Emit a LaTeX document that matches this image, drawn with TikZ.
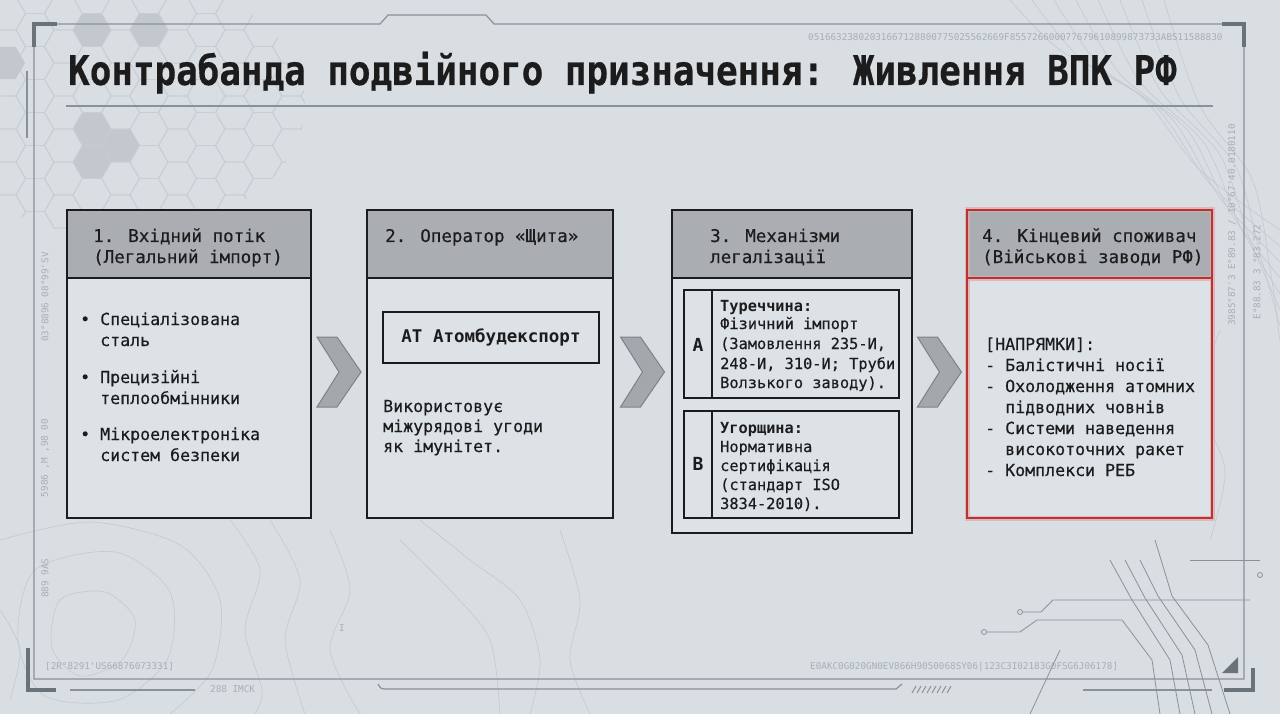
\documentclass[tikz,border=0pt]{standalone}
\usepackage{fontspec}
\usetikzlibrary{calc}
\newfontfamily\mono{DejaVu Sans Mono}[FakeBold=0.35]
\newfontfamily\monob{DejaVu Sans Mono Bold}
\newfontfamily\decomono{DejaVu Sans Mono}
\newfontfamily\tmono{DejaVu Sans Mono Bold}[FakeStretch=0.875,FakeBold=0.4]
\definecolor{bgc}{HTML}{D9DEE3}
\definecolor{bodyc}{HTML}{DDE2E7}
\definecolor{hdrc}{HTML}{AAAEB2}
\definecolor{ink}{HTML}{1C1C1C}
\definecolor{framec}{HTML}{8A9197}
\definecolor{darkc}{HTML}{6B737A}
\definecolor{hexc}{HTML}{C8CED4}
\definecolor{hexf}{HTML}{C2C8CE}
\definecolor{topoc}{HTML}{C3C9CF}
\definecolor{decot}{HTML}{A7AEB5}
\definecolor{redc}{HTML}{B83434}
\definecolor{glowc}{HTML}{E4A9A9}
\definecolor{chevf}{HTML}{A3A8AD}
\definecolor{chevd}{HTML}{7C8288}
\begin{document}
\begin{tikzpicture}[x=1pt,y=-1pt,
  topo/.style={draw=topoc, line width=0.6},
  boxframe/.style={draw=ink, line width=2, fill=none, inner sep=0, rectangle},
  t16/.style={anchor=base west, inner sep=0, text=ink, font=\mono\fontsize{16.6}{20}\selectfont},
  thdr/.style={anchor=base west, inner sep=0, text=ink, font=\mono\fontsize{17.5}{21}\selectfont},
  t15/.style={anchor=base west, inner sep=0, text=ink, font=\mono\fontsize{15.3}{19}\selectfont},
  t15b/.style={t15, font=\monob\fontsize{15.3}{19}\selectfont},
  deco/.style={inner sep=0, text=decot, font=\decomono\fontsize{9.3}{10}\selectfont},
  chev/.style={fill=chevf, draw=chevd, line width=1, line join=miter},
  fline/.style={draw=framec, line width=1.2},
  dbar/.style={draw=darkc, line width=4}]
\useasboundingbox (0,0) rectangle (1280,714);
\fill[bgc] (0,0) rectangle (1280,714);

% hexagon pattern
\begin{scope}
\clip (115,105) ellipse [x radius=190, y radius=130];
\foreach \i in {0,...,12}{
  \foreach \j in {-1,...,7}{
    \pgfmathsetmacro\cx{6.5+28.5*\i}
    \pgfmathsetmacro\cy{mod(\i,2)==1 ? 30+33*\j : 46.5+33*\j}
    \draw[hexc, line width=0.9] (\cx,\cy) +(0:19) -- +(60:19) -- +(120:19) -- +(180:19) -- +(240:19) -- +(300:19) -- cycle;
  }
}
\foreach \cx/\cy in {92/30, 149/30, 92/129, 120.5/145.5, 92/162, 6.5/63}{
  \fill[hexf] (\cx,\cy) +(0:18.5) -- +(60:18.5) -- +(120:18.5) -- +(180:18.5) -- +(240:18.5) -- +(300:18.5) -- cycle;
}
\end{scope}

% topographic lines
\draw[topo] plot[smooth cycle] coordinates {(60,600)(105,592)(135,620)(122,660)(80,676)(52,648)};
\draw[topo] plot[smooth cycle] coordinates {(35,570)(115,552)(170,592)(168,658)(118,700)(45,696)(18,640)};
\draw[topo] plot[smooth] coordinates {(0,540)(90,522)(180,545)(220,600)(212,670)(170,714)};
\draw[topo] plot[smooth] coordinates {(230,520)(260,570)(245,630)(262,690)(255,714)};
\draw[topo] plot[smooth] coordinates {(270,520)(300,580)(285,640)(305,714)};
\draw[topo] plot[smooth] coordinates {(330,530)(350,590)(330,650)(360,714)};
\draw[topo] plot[smooth] coordinates {(420,520)(470,560)(520,600)(540,660)(530,714)};
\draw[topo] plot[smooth] coordinates {(400,540)(450,590)(490,640)(500,714)};
\draw[topo] plot[smooth] coordinates {(560,530)(580,600)(570,660)(590,714)};
\draw[topo] plot[smooth] coordinates {(0,610)(20,650)(10,700)};
\foreach \k in {0,...,7}{
  \draw[topo] plot[smooth] coordinates {(1010+22*\k,0)(1060+20*\k,50+8*\k)(1140+16*\k,95+12*\k)(1200+10*\k,170+14*\k)(1280,230+16*\k)};
}
\draw[topo] plot[smooth] coordinates {(1220,330)(1200,400)(1225,470)(1210,540)};

% circuit traces bottom right
\begin{scope}[draw=framec, line width=0.8]
\draw (1020,612) circle (2.5);
\draw (1022.5,612) -- (1041,612) -- (1053,600) -- (1250,600);
\draw (984,632) circle (2.5);
\draw (986.5,632) -- (1020,632) -- (1037,620) -- (1122,620) -- (1152,660) -- (1160,714);
\draw (1110,560) -- (1132,600) -- (1170,660) -- (1180,714);
\draw (1125,560) -- (1145,598) -- (1182,655) -- (1195,714);
\draw (1140,560) -- (1158,596) -- (1195,650) -- (1212,714);
\draw (1155,540) -- (1172,596) -- (1208,645) -- (1230,714);
\draw (1190,560) -- (1260,560);
\draw (1260,575) circle (2.5);
\draw (1060,650) -- (1030,714);
\end{scope}

% frame
\draw[fline] (34,24) -- (380,24) -- (388,15) -- (486,15) -- (494,24) -- (1244,24) -- (1244,679) -- (34,679) -- cycle;
\draw[dbar] (34,47) -- (34,24) -- (57,24);
\draw[dbar] (1222,24) -- (1244,24) -- (1244,47);
\draw[dbar] (28,648) -- (28,690) -- (56,690);
\draw[dbar] (1224,690) -- (1253,690) -- (1253,668);
\fill[darkc] (1222,673) -- (1238,673) -- (1238,657) -- cycle;
\draw[framec, line width=1.2] (27,71) -- (27,138);
\draw[framec, line width=1.2] (70,690) -- (195,690);
\draw[framec, line width=1.2] (378,684) .. controls (381,689) .. (388,689) -- (896,689) -- (902,684);
\draw[framec, line width=1] \foreach \h in {0,...,7}{ (912+5*\h,693) -- (916+5*\h,686) };
\draw[framec, line width=1.2] (1083,690) -- (1212,690);
\node[deco, anchor=west] (d1) at (808,37) {05166323802031667128800775025562669F855726600077679610899873733ABS11588830};
\node[deco, anchor=west] (d2) at (45,667) {[2R°8291'US66876073331]};
\node[deco, anchor=west] (d3) at (810,667) {E0AKC0G020GN0EV866H9050068SY06|123C3I02183G0FSG6J06178]};
\node[deco, anchor=west] (d4) at (210,689) {288 IMCK};
\node[deco, rotate=90] (d5) at (1232,225) {3985°87'3 E°89.83 / 10°67'40.0180110};
\node[deco, rotate=90] (d6) at (1257,272) {E°88.83 3 °83.272};
\node[deco, rotate=90] (d7) at (45,297) {03°8896 08°99'SV};
\node[deco, rotate=90] (d8) at (45,458) {5986 ,M ,98 00};
\node[deco, rotate=90] (d9) at (45,578) {889 9AS};
\node[deco] (d10) at (342,628) {I};

% title
\node[anchor=base west, inner sep=0, text=ink, font=\tmono\fontsize{41}{41}\selectfont] (title) at (68,85) {Контрабанда подвійного призначення: Живлення ВПК РФ};
\draw[framec, line width=1.5] (66,106) -- (1213,106);

% box fills
\fill[bodyc] (67,210) rectangle (311,518);
\fill[hdrc] (67,210) rectangle (311,278);
\fill[bodyc] (367,210) rectangle (613,518);
\fill[hdrc] (367,210) rectangle (613,278);
\fill[bodyc] (672,210) rectangle (912,533);
\fill[hdrc] (672,210) rectangle (912,278);
\fill[bodyc] (967,210) rectangle (1212,518);
\fill[hdrc] (967,210) rectangle (1212,278);

% box frames
\node[boxframe, minimum width=244, minimum height=308] (b1) at (189,364) {};
\node[boxframe, minimum width=246, minimum height=308] (b2) at (490,364) {};
\node[boxframe, minimum width=240, minimum height=323] (b3) at (792,371.5) {};
\draw[glowc, line width=5, opacity=0.7] (967,210) rectangle (1212,518);
\draw[glowc, line width=5, opacity=0.7] (967,278) -- (1212,278);
\node[boxframe, draw=redc, line width=2.2, minimum width=245, minimum height=308] (b4) at (1089.5,364) {};
\draw[ink, line width=2] (b1.west |- 0,278) -- (b1.east |- 0,278);
\draw[ink, line width=2] (b2.west |- 0,278) -- (b2.east |- 0,278);
\draw[ink, line width=2] (b3.west |- 0,278) -- (b3.east |- 0,278);
\draw[redc, line width=2.2] (b4.west |- 0,278) -- (b4.east |- 0,278);

% chevrons
\foreach \a/\b/\n in {b1/b2/c1, b2/b3/c2, b3/b4/c3}{
  \coordinate (\n) at ($(\a.east |- 0,372)!0.5!(\b.west |- 0,372)$);
  \draw[chev] ([shift={(-22,-35)}]\n) -- ([shift={(-2,-35)}]\n) -- ([shift={(22,0)}]\n) -- ([shift={(-2,35)}]\n) -- ([shift={(-22,35)}]\n) -- (\n) -- cycle;
}

% box 1 text
\node[thdr] (h1a) at (93,242) {1. Вхідний потік};
\node[thdr] (h1b) at (93,263) {(Легальний імпорт)};
\node[t16] (p1) at (80,325) {•};
\node[t16] (l1a) at (100,325) {Спеціалізована};
\node[t16] (l1b) at (100,346) {сталь};
\node[t16] (p2) at (80,383) {•};
\node[t16] (l1c) at (100,383) {Прецизійні};
\node[t16] (l1d) at (100,404) {теплообмінники};
\node[t16] (p3) at (80,440) {•};
\node[t16] (l1e) at (100,440) {Мікроелектроніка};
\node[t16] (l1f) at (100,461) {систем безпеки};

% box 2 text
\node[thdr] (h2) at (385,242) {2. Оператор «Щита»};
\node[draw=ink, line width=1.3, inner sep=0, minimum width=216, minimum height=51, text=ink, font=\monob\fontsize{17.5}{21}\selectfont] (atom) at (491,337.5) {АТ Атомбудекспорт};
\node[t16] (l2a) at (383,412) {Використовує};
\node[t16] (l2b) at (383,432) {міжурядові угоди};
\node[t16] (l2c) at (383,452) {як імунітет.};

% box 3 text
\node[thdr] (h3a) at (710,242) {3. Механізми};
\node[thdr] (h3b) at (710,263) {легалізації};
\node[draw=ink, line width=1.3, inner sep=0, minimum width=215, minimum height=108] (sa) at (791.5,344) {};
\draw[ink, line width=1.3] (712,290) -- (712,398);
\node[inner sep=0, text=ink, font=\monob\fontsize{18}{20}\selectfont] (la) at (698,345) {А};
\node[t15b] (a1) at (720,311) {Туреччина:};
\node[t15] (a2) at (720,329) {Фізичний імпорт};
\node[t15] (a3) at (720,349) {(Замовлення 235-И,};
\node[t15] (a4) at (720,369) {248-И, 310-И; Труби};
\node[t15] (a5) at (720,388) {Волзького заводу).};
\node[draw=ink, line width=1.3, inner sep=0, minimum width=215, minimum height=107] (sb) at (791.5,464.5) {};
\draw[ink, line width=1.3] (712,411) -- (712,518);
\node[inner sep=0, text=ink, font=\monob\fontsize{18}{20}\selectfont] (lb) at (698,464) {В};
\node[t15b] (b1t) at (720,433) {Угорщина:};
\node[t15] (b2t) at (720,452) {Нормативна};
\node[t15] (b3t) at (720,471) {сертифікація};
\node[t15] (b4t) at (720,490) {(стандарт ISO};
\node[t15] (b5t) at (720,509) {3834-2010).};

% box 4 text
\node[thdr] (h4a) at (982,242) {4. Кінцевий споживач};
\node[thdr] (h4b) at (982,263) {(Військові заводи РФ)};
\node[t16] (l4a) at (985,350) {[НАПРЯМКИ]:};
\node[t16] (l4b) at (985,371) {- Балістичні носії};
\node[t16] (l4c) at (985,392) {- Охолодження атомних};
\node[t16] (l4d) at (1005,413) {підводних човнів};
\node[t16] (l4e) at (985,434) {- Системи наведення};
\node[t16] (l4f) at (1005,455) {високоточних ракет};
\node[t16] (l4g) at (985,476) {- Комплекси РЕБ};
\end{tikzpicture}
\end{document}
